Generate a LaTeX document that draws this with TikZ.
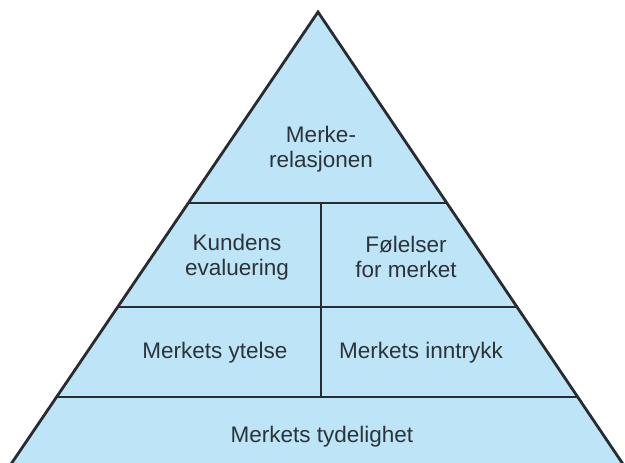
\documentclass[tikz,border=0pt]{standalone}
\usepackage{fontspec}
\setmainfont{Liberation Sans}
\definecolor{layerfill}{RGB}{190,228,247}
\definecolor{edgeline}{RGB}{40,44,48}
\definecolor{labeltext}{RGB}{42,52,58}
\begin{document}
\begin{tikzpicture}[x=1pt,y=-1pt,
  edge/.style={draw=edgeline,line width=2.8pt},
  label/.style={text=labeltext,font=\fontsize{22.5}{25}\selectfont,align=center,inner sep=0pt}]
\useasboundingbox (0,0) rectangle (625,463);
% pyramid outline corners (base runs past the lower edge)
\coordinate (apex) at (318,12);
\coordinate (bl) at (7,470);
\coordinate (br) at (627,470);
\begin{scope}
  \clip (0,0) rectangle (625,463);
  \fill[layerfill] (apex) -- (bl) -- (br) -- cycle;
  \begin{scope}
    \clip (apex) -- (bl) -- (br) -- cycle;
    % layer separators
    \draw[edge] (0,203) -- (625,203);
    \draw[edge] (0,307) -- (625,307);
    \draw[edge] (0,397) -- (625,397);
    \draw[edge] (321,203) -- (321,397);
  \end{scope}
  \draw[edge,line join=miter] (bl) -- (apex) -- (br);
\end{scope}
% labels
\node[label] (rel) at (321,149) {Merke-\\relasjonen};
\node[label] (eval) at (237,257) {Kundens\\evaluering};
\node[label] (feel) at (406,257) {Følelser\\for merket};
\node[label] (perf) at (215,353) {Merkets ytelse};
\node[label] (imag) at (421,353) {Merkets inntrykk};
\node[label] (sal) at (322,437) {Merkets tydelighet};
\end{tikzpicture}
\end{document}
